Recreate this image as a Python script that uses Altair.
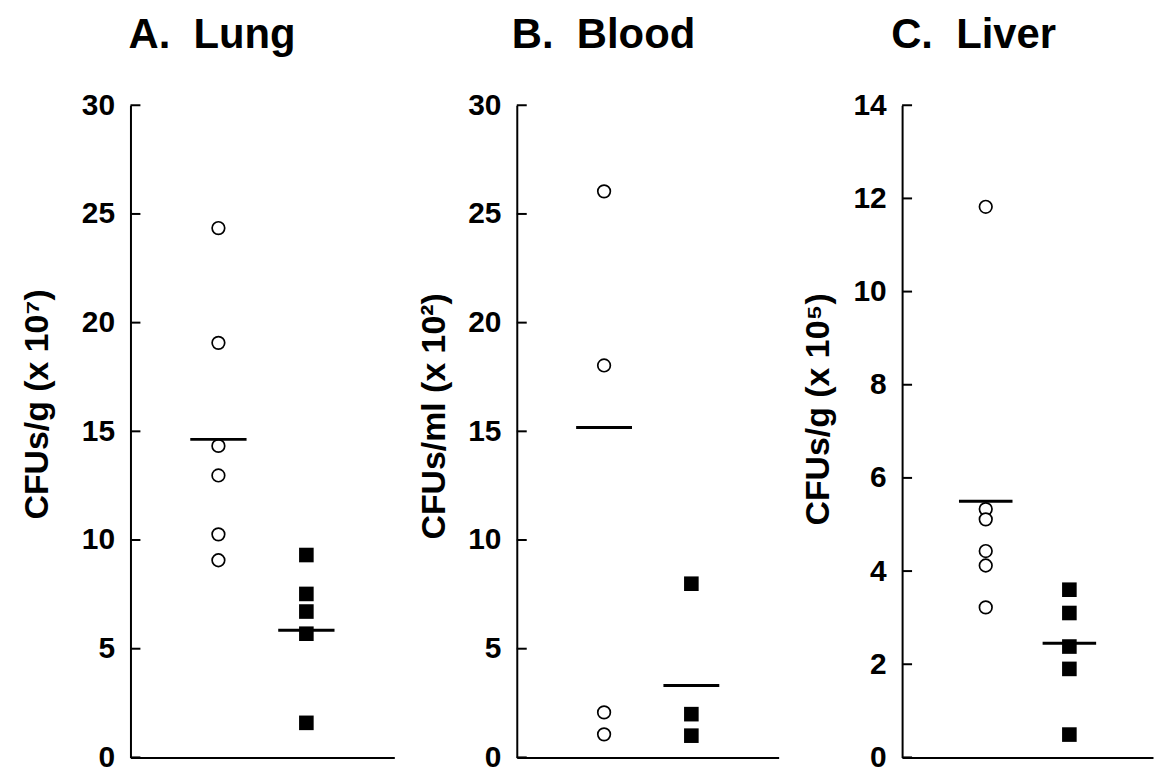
import altair as alt
import pandas as pd

# ---- data ----
panel_titles = ["A.\u00a0\u00a0Lung", "B.\u00a0\u00a0Blood", "C.\u00a0\u00a0Liver"]
y_titles = ["CFUs/g (x 10\u2077)", "CFUs/ml (x 10\u00b2)", "CFUs/g (x 10\u2075)"]
y_ticks = [
    [0, 5, 10, 15, 20, 25, 30],
    [0, 5, 10, 15, 20, 25, 30],
    [0, 2, 4, 6, 8, 10, 12, 14],
]

lung_open = [24.35, 19.07, 14.33, 12.97, 10.26, 9.07]
lung_filled = [9.31, 7.52, 6.71, 5.69, 1.59]
lung_means = [14.63, 5.85]

blood_open = [26.04, 18.03, 2.07, 1.06]
blood_filled = [7.99, 1.99, 1.0]
blood_means = [15.18, 3.31]

liver_open = [11.82, 5.33, 5.11, 4.43, 4.12, 3.22]
liver_filled = [3.6, 3.1, 2.38, 1.9, 0.49]
liver_means = [5.50, 2.45]

group_pos = [1, 2]          # open circles, filled squares
x_domain = [0, 3]
half = 0.32

FONT = "Liberation Sans"

panels_data = [
    (lung_open, lung_filled, lung_means),
    (blood_open, blood_filled, blood_means),
    (liver_open, liver_filled, liver_means),
]
title_x = [-83, -73, -74]
title_y = [300, 312, 305]
title_dx = [-2, -5, -11]
widths = [265, 263, 252]


def make_panel(i):
    opn, fil, means = panels_data[i]
    ticks = y_ticks[i]
    ymax = ticks[-1]
    df_open = pd.DataFrame({"x": [group_pos[0]] * len(opn), "y": opn})
    df_fill = pd.DataFrame({"x": [group_pos[1]] * len(fil), "y": fil})
    df_mean = pd.DataFrame({
        "x": [p - half for p in group_pos],
        "x2": [p + half for p in group_pos],
        "y": means,
    })
    df_ticks = pd.DataFrame({"y": ticks})

    xs = alt.Scale(domain=x_domain, nice=False, zero=False)
    ys = alt.Scale(domain=[0, ymax], nice=False)
    x_axis = alt.Axis(labels=False, ticks=False, grid=False, title=None,
                      domainWidth=2, domainColor="black")
    y_axis = alt.Axis(values=ticks, ticks=False, grid=False, labelPadding=16,
                      title=y_titles[i], titleX=title_x[i], titleY=title_y[i],
                      titleAngle=-90, titleBaseline="alphabetic", titleAlign="center",
                      domainWidth=2, domainColor="black")

    base_axes = alt.Chart(df_ticks).mark_rule(color="black", strokeWidth=2).encode(
        y=alt.Y("y:Q", scale=ys, axis=y_axis),
        x=alt.value(0), x2=alt.value(10),
    )
    pts_open = alt.Chart(df_open).mark_point(
        shape="circle", filled=True, fill="white", stroke="black",
        strokeWidth=1.7, size=160, opacity=1
    ).encode(
        x=alt.X("x:Q", scale=xs, axis=x_axis),
        y=alt.Y("y:Q", scale=ys),
    )
    pts_fill = alt.Chart(df_fill).mark_point(
        shape="square", filled=True, color="black", size=215, opacity=1
    ).encode(
        x=alt.X("x:Q", scale=xs),
        y=alt.Y("y:Q", scale=ys),
    )
    mean_lines = alt.Chart(df_mean).mark_rule(color="black", strokeWidth=3).encode(
        x=alt.X("x:Q", scale=xs),
        x2="x2:Q",
        y=alt.Y("y:Q", scale=ys),
    )
    return alt.layer(base_axes, pts_open, pts_fill, mean_lines).properties(
        width=widths[i], height=655,
        title=alt.TitleParams(text=panel_titles[i], anchor="start", frame="group",
                              font=FONT, fontSize=42, fontWeight="bold",
                              color="black", baseline="alphabetic",
                              offset=0, dx=title_dx[i]),
    )


chart = alt.hconcat(*[make_panel(i) for i in range(3)], spacing=23).properties(
    padding={"left": 13, "top": 5, "right": 2, "bottom": 2}
).configure(font=FONT, background="white").configure_view(stroke=None).configure_axis(
    labelFont=FONT, labelFontSize=30, labelFontWeight="bold", labelColor="black",
    titleFont=FONT, titleFontSize=34, titleFontWeight="bold", titleColor="black",
)

chart.save("out.html", embed_options={"renderer": "svg", "actions": False})
